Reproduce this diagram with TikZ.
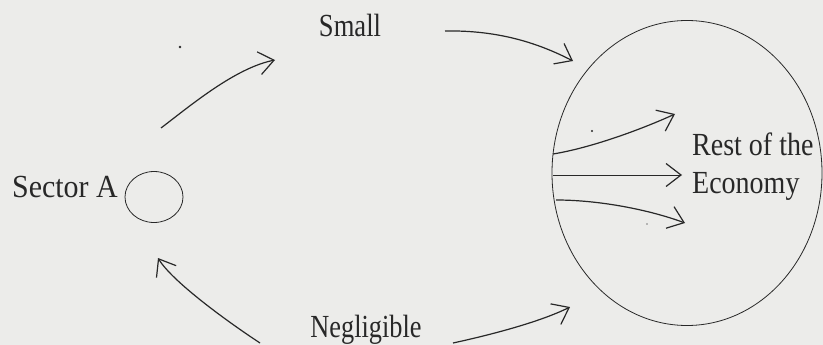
\documentclass[tikz,border=0pt]{standalone}
\usepackage{fontspec}
\usepackage{graphicx}
\setmainfont{Liberation Serif}
\usetikzlibrary{arrows.meta,shapes.geometric}
\definecolor{bg}{RGB}{236,236,234}
\definecolor{ink}{RGB}{40,40,40}
\newcommand{\talltxt}[2][1]{\scalebox{#1}[1.15]{#2}}
\begin{document}
\begin{tikzpicture}[x=1pt,y=-1pt,
  lbl/.style={inner sep=0pt,font=\fontsize{28}{38}\selectfont,text=ink},
  flow/.style={draw=ink,line width=1.2pt,-{Straight Barb[length=15pt,width=23pt,line width=1.2pt]}},
  thinflow/.style={draw=ink,line width=0.7pt,-{Straight Barb[length=15pt,width=23pt,line width=1.2pt]}},
  blob/.style={draw=ink,line width=0.8pt,ellipse,inner sep=0pt}]
\fill[bg] (0,0) rectangle (823,345);
\useasboundingbox (0,0) rectangle (823,345);
% nodes
\node[blob,minimum width=58pt,minimum height=51pt] (sa) at (154,197) {};
\node[blob,minimum width=270pt,minimum height=305pt] (re) at (687,173) {};
\node[lbl,anchor=base east] (salbl) at (118,197) {\talltxt[1.07]{Sector A}};
\node[lbl,anchor=base] (small) at (350,37) {\talltxt[0.95]{Small}};
\node[lbl,anchor=base] (negl) at (366,337) {\talltxt[0.94]{Negligible}};
\node[lbl,anchor=north west,align=left] (rest) at (692,133) {\talltxt{Rest of the}\\\talltxt{Economy}};
% free ends
\coordinate (a1s) at (161,128);
\coordinate (a1e) at (275,60);
\coordinate (a2s) at (445,31);
\coordinate (a2e) at (573,61);
\coordinate (i1s) at (553,154);
\coordinate (i1e) at (675,114);
\coordinate (i2s) at (553,175);
\coordinate (i2e) at (682,175);
\coordinate (i3s) at (556,200);
\coordinate (i3e) at (685,223);
\coordinate (b1s) at (453,343);
\coordinate (b1e) at (570,307);
\coordinate (b2s) at (260,343);
\coordinate (b2e) at (158,258);
% connectors
\draw[flow] (a1s) .. controls (190,106) and (235,68) .. (a1e);
\draw[flow] (a2s) .. controls (500,30) and (540,44) .. (a2e);
\draw[flow] (i1s) .. controls (590,148) and (640,130) .. (i1e);
\draw[thinflow] (i2s) -- (i2e);
\draw[flow] (i3s) .. controls (600,200) and (650,210) .. (i3e);
\draw[flow] (b1s) .. controls (490,335) and (540,322) .. (b1e);
\draw[flow] (b2s) .. controls (225,320) and (172,281) .. (b2e);
% specks
\fill[ink] (180,47) circle (1.3pt);
\fill[ink] (592,131) circle (1.2pt);
\fill[ink!60] (647,224) circle (0.9pt);
\end{tikzpicture}
\end{document}
